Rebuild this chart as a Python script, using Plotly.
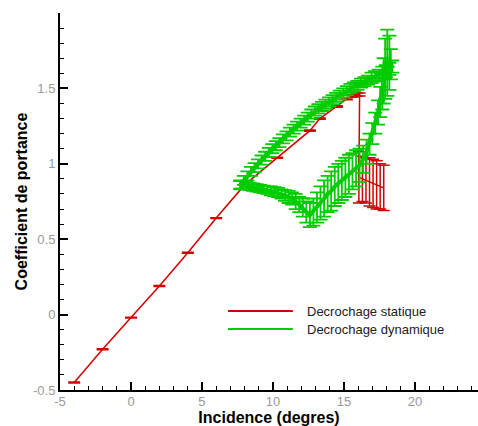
import plotly.graph_objects as go

# Static stall (red)
stat_x = [-4, -2, 0, 2, 4, 6, 8, 10.3, 12.6, 13.3, 14.5, 15.2, 15.6, 15.9, 16.1,
          16.05, 16.3, 16.55, 16.8, 17.05, 17.3, 17.55, 17.8]
stat_y = [-0.45, -0.23, -0.02, 0.19, 0.41, 0.64, 0.86, 1.04, 1.22, 1.30, 1.38, 1.43, 1.45, 1.46, 1.46,
          0.91, 0.90, 0.89, 0.88, 0.87, 0.86, 0.85, 0.84]
stat_err = [0.003, 0.003, 0.003, 0.003, 0.003, 0.003, 0.003, 0.003, 0.004, 0.004, 0.005, 0.006, 0.008, 0.01, 0.01,
            0.17, 0.15, 0.15, 0.16, 0.16, 0.16, 0.15, 0.15]

# Dynamic stall (green) - upstroke then downstroke
dyn_x = [7.7, 7.95, 8.2, 8.45, 8.7, 8.95, 9.2, 9.45, 9.7, 9.95, 10.2, 10.45, 10.7, 10.95,
         11.2, 11.45, 11.7, 11.95, 12.2, 12.45, 12.7, 12.95, 13.2, 13.45, 13.7, 13.95,
         14.2, 14.45, 14.7, 14.95, 15.2, 15.45, 15.7, 15.95, 16.2, 16.45, 16.7, 16.95,
         17.2, 17.45, 17.7, 17.95, 18.2, 18.4,
         18.3, 18.2, 18.05, 17.9, 17.8, 17.7, 17.55, 17.4, 17.2, 17.0, 16.8, 16.6, 16.35,
         16.1, 15.85, 15.6, 15.35, 15.1, 14.85, 14.6, 14.35, 14.1, 13.85, 13.6, 13.35,
         13.1, 12.85, 12.6, 12.35, 12.1, 11.85, 11.6, 11.35, 11.1, 10.85, 10.6, 10.35,
         10.1, 9.85, 9.6, 9.35, 9.1, 8.85, 8.6, 8.35, 8.1, 7.85, 7.7]
dyn_y = [0.86, 0.89, 0.92, 0.95, 0.975, 1.00, 1.025, 1.05, 1.075, 1.10, 1.12, 1.14, 1.165, 1.185,
         1.21, 1.23, 1.25, 1.27, 1.29, 1.31, 1.33, 1.35, 1.365, 1.38, 1.395, 1.41,
         1.425, 1.44, 1.455, 1.47, 1.485, 1.50, 1.51, 1.52, 1.535, 1.545, 1.555, 1.57,
         1.58, 1.59, 1.605, 1.615, 1.63, 1.645,
         1.66, 1.67, 1.67, 1.63, 1.55, 1.48, 1.41, 1.34, 1.27, 1.20, 1.13, 1.08, 1.03,
         0.99, 0.97, 0.95, 0.93, 0.91, 0.89, 0.87, 0.85, 0.82, 0.80, 0.77, 0.74,
         0.71, 0.68, 0.66, 0.68, 0.71, 0.73, 0.75, 0.77, 0.78, 0.79, 0.80, 0.81,
         0.815, 0.82, 0.825, 0.83, 0.835, 0.84, 0.845, 0.85, 0.855, 0.86, 0.86]
dyn_err = [0.03, 0.03, 0.03, 0.03, 0.03, 0.03, 0.03, 0.03, 0.03, 0.03, 0.03, 0.03, 0.03, 0.03,
           0.03, 0.03, 0.03, 0.03, 0.03, 0.03, 0.03, 0.03, 0.03, 0.03, 0.03, 0.03,
           0.03, 0.03, 0.03, 0.03, 0.03, 0.03, 0.03, 0.03, 0.03, 0.03, 0.03, 0.035,
           0.035, 0.035, 0.04, 0.04, 0.04, 0.04,
           0.10, 0.18, 0.22, 0.20, 0.15, 0.12, 0.10, 0.08, 0.07, 0.07, 0.07, 0.08, 0.09,
           0.11, 0.12, 0.12, 0.13, 0.13, 0.13, 0.13, 0.13, 0.13, 0.12, 0.12, 0.11,
           0.10, 0.09, 0.08, 0.07, 0.06, 0.05, 0.05, 0.04, 0.04, 0.035, 0.03, 0.03,
           0.03, 0.03, 0.025, 0.025, 0.025, 0.025, 0.025, 0.025, 0.025, 0.025, 0.025]

x_ticks = [-5, 0, 5, 10, 15, 20]
x_tick_labels = ["-5", "0", "5", "10", "15", "20"]
y_ticks = [-0.5, 0, 0.5, 1, 1.5]
y_tick_labels = ["-0.5", "0", "0.5", "1", "1.5"]

legend_names = ["Decrochage statique", "Decrochage dynamique"]
RED = "#d40000"
GREEN = "#00cc00"

fig = go.Figure()
fig.add_trace(go.Scatter(
    x=stat_x, y=stat_y, mode="lines", name=legend_names[0], showlegend=False,
    line=dict(color=RED, width=1.5),
    error_y=dict(type="data", array=stat_err, color=RED, thickness=1.5, width=6)))
fig.add_trace(go.Scatter(
    x=dyn_x, y=dyn_y, mode="lines", name=legend_names[1], showlegend=False,
    line=dict(color=GREEN, width=4),
    error_y=dict(type="data", array=dyn_err, color=GREEN, thickness=1.8, width=7)))

tick_font = dict(family="Liberation Sans, Arial, sans-serif", size=13, color="#9a9a9a")
title_font = dict(family="Liberation Sans, Arial, sans-serif", size=16, color="black")

fig.update_xaxes(
    range=[-5, 24.44], showgrid=False, zeroline=False,
    showline=True, linecolor="black", linewidth=2,
    ticks="inside", ticklen=8, tickwidth=2, tickcolor="black",
    tickvals=x_ticks, ticktext=x_tick_labels, tickfont=tick_font, ticklabelstandoff=-2,
    minor=dict(ticks="inside", ticklen=4, tickwidth=1, tickcolor="black", dtick=1, showgrid=False),
    title=dict(text="<b>Incidence (degres)</b>", font=title_font, standoff=5))
fig.update_yaxes(
    range=[-0.5, 2.0], showgrid=False, zeroline=False,
    showline=True, linecolor="black", linewidth=2,
    ticks="inside", ticklen=8, tickwidth=2, tickcolor="black",
    tickvals=y_ticks, ticktext=y_tick_labels, tickfont=tick_font,
    minor=dict(ticks="inside", ticklen=4, tickwidth=1, tickcolor="black", dtick=0.1, showgrid=False),
    title=dict(text="<b>Coefficient de portance</b>", font=title_font, standoff=1))

# Legend drawn manually (long line samples as in the reference)
leg_y = [0.2095, 0.1618]
leg_cols = [RED, GREEN]
for yy, col, name in zip(leg_y, leg_cols, legend_names):
    fig.add_shape(type="line", xref="paper", yref="paper", x0=0.402, x1=0.557, y0=yy, y1=yy,
                  line=dict(color=col, width=2))
    fig.add_annotation(xref="paper", yref="paper", x=0.586, y=yy, text=name, showarrow=False,
                       xanchor="left", yanchor="middle",
                       font=dict(family="Liberation Sans, Arial, sans-serif", size=13, color="#222222"))

fig.update_layout(
    width=478, height=426, plot_bgcolor="white", paper_bgcolor="white",
    margin=dict(l=60, r=0, t=13, b=36), showlegend=False)

fig.write_html("out.html")
